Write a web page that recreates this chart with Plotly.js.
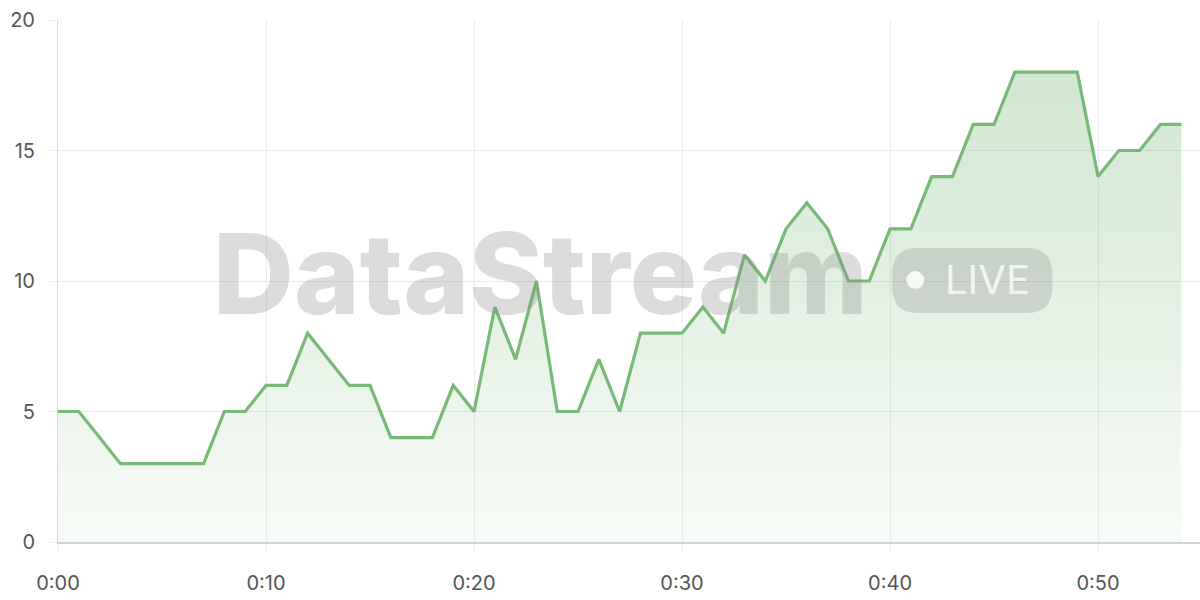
<!DOCTYPE html>
<html>
<head>
<meta charset="utf-8">
<script src="https://cdn.plot.ly/plotly-3.0.1.min.js"></script>
<style>
html,body{margin:0;padding:0;background:#fff}
#chart{width:1200px;height:600px}
</style>
</head>
<body>
<div id="chart"></div>
<script>
// minutes since start
let minutes=[0,1,2,3,4,5,6,7,8,9,10,11,12,13,14,15,16,17,18,19,20,21,22,23,24,25,26,27,28,29,30,31,32,33,34,35,36,37,38,39,40,41,42,43,44,45,46,47,48,49,50,51,52,53,54]

let values=[5,5,4,3,3,3,3,3,5,5,6,6,8,7,6,6,4,4,4,6,5,9,7,10,5,5,7,5,8,8,8,9,8,11,10,12,13,12,10,10,12,12,14,14,16,16,18,18,18,18,14,15,15,16,16]

let tickMinutes=[0,10,20,30,40,50]
let tickLabels=["0:00","0:10","0:20","0:30","0:40","0:50"]

let green="#79b977"

// rounded rect path in data units
function pill(x0,x1,y0,y1,rx,ry){
return "M"+(x0+rx)+","+y1+" L"+(x1-rx)+","+y1+
" Q"+x1+","+y1+" "+x1+","+(y1-ry)+
" L"+x1+","+(y0+ry)+
" Q"+x1+","+y0+" "+(x1-rx)+","+y0+
" L"+(x0+rx)+","+y0+
" Q"+x0+","+y0+" "+x0+","+(y0+ry)+
" L"+x0+","+(y1-ry)+
" Q"+x0+","+y1+" "+(x0+rx)+","+y1+" Z"
}

let trace={
x:minutes,
y:values,
type:"scatter",
mode:"lines",
line:{color:green,width:3.2,shape:"linear"},
fill:"tozeroy",
fillgradient:{
type:"vertical",
start:0,
stop:18,
colorscale:[[0,"rgba(121,185,119,0.06)"],[1,"rgba(121,185,119,0.34)"]]
},
hoverinfo:"skip"
}

let gridCol="#ebebeb"

let layout={
width:1200,
height:600,
margin:{l:58,r:0,t:20,b:58},
paper_bgcolor:"#fff",
plot_bgcolor:"#fff",
showlegend:false,
font:{family:"Inter, 'Noto Sans', sans-serif",color:"#555",size:20},
xaxis:{
range:[0,54.9],
tickvals:tickMinutes,
ticktext:tickLabels,
showgrid:true,
gridcolor:gridCol,
gridwidth:1,
zeroline:false,
showline:true,
linecolor:"#d2d2d2",
linewidth:2,
ticks:"outside",
ticklen:8,
tickcolor:gridCol,
ticklabelstandoff:14,
fixedrange:true
},
yaxis:{
range:[0,20],
tickvals:[0,5,10,15,20],
showgrid:true,
gridcolor:gridCol,
gridwidth:1,
zeroline:false,
showline:true,
linecolor:"#d8d8d8",
linewidth:1,
ticks:"outside",
ticklen:8,
tickcolor:gridCol,
ticklabelstandoff:10,
fixedrange:true
},
shapes:[
{type:"path",xref:"x",yref:"y",layer:"above",
path:pill(40.1,47.8,8.77,11.26,1.25,1.0),
fillcolor:"rgba(140,140,140,0.28)",line:{width:0}},
{type:"circle",xref:"x",yref:"y",layer:"above",
x0:40.78,x1:41.64,y0:9.7,y1:10.38,
fillcolor:"rgba(255,255,255,0.85)",line:{width:0}}
],
annotations:[
{text:"DataStream",xref:"x",yref:"y",x:23.2,y:10.3,
showarrow:false,xanchor:"center",yanchor:"middle",
font:{family:"Inter, Roboto, sans-serif",weight:800,size:112,color:"rgba(140,140,140,0.3)"}},
{text:"LIVE",xref:"x",yref:"y",x:44.7,y:10.05,
showarrow:false,xanchor:"center",yanchor:"middle",
font:{family:"Inter, Roboto, sans-serif",size:40,color:"rgba(255,255,255,0.8)"}}
]
}

Plotly.newPlot("chart",[trace],layout,{displayModeBar:false,staticPlot:true})
</script>
</body>
</html>
